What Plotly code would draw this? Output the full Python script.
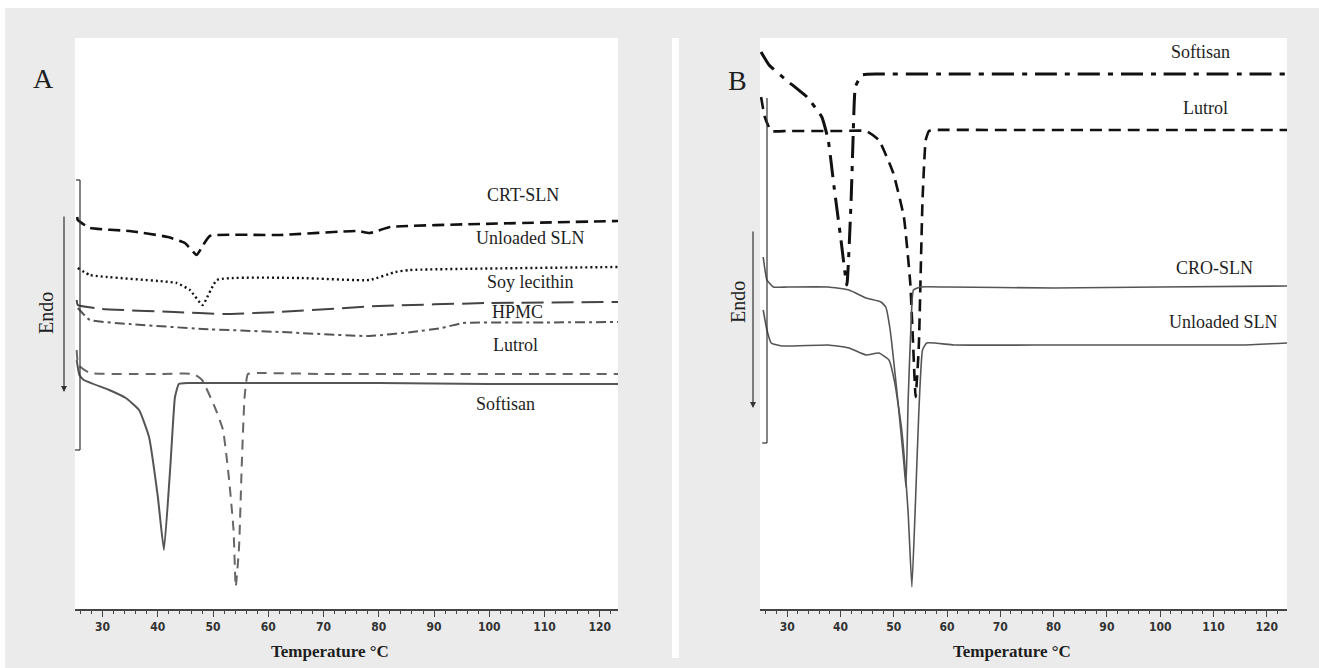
import plotly.graph_objects as go

# ---------------- Panel A: DSC thermograms (temperature in °C, relative heat flow) ----------------
a_crt_t = [25.4, 25.5, 27.7, 34.9, 41.8, 44.9, 47.0, 48.1, 49.4, 62.1, 76.2, 78.3, 82.1, 98.2, 123.3]
a_crt_v = [78.4, 77.8, 76.2, 75.6, 74.4, 73.2, 70.8, 72.6, 74.6, 74.8, 75.6, 75.2, 76.4, 77.0, 77.6]

a_unl_t = [25.5, 27.7, 43.4, 45.8, 48.1, 50.7, 65.7, 78.3, 83.0, 85.6, 123.3]
a_unl_v = [68.2, 66.8, 65.2, 63.8, 60.8, 65.8, 66.2, 65.8, 67.4, 67.8, 68.4]

a_soy_t = [25.3, 25.5, 29.9, 43.0, 52.0, 62.0, 80.0, 100.0, 123.3]
a_soy_v = [61.8, 60.8, 60.0, 59.4, 59.0, 59.4, 60.6, 61.2, 61.4]

a_hpmc_t = [25.5, 27.7, 34.9, 48.1, 62.1, 78.3, 86.0, 91.4, 95.2, 110.0, 123.3]
a_hpmc_v = [60.2, 57.8, 57.0, 56.0, 55.4, 54.6, 55.4, 56.2, 57.2, 57.3, 57.4]

a_lut_t = [25.3, 25.6, 27.7, 35.0, 40.0, 46.5, 48.0, 50.3, 51.8, 52.9, 53.7, 54.1, 54.7, 55.2, 55.7,
           56.3, 58.0, 70.0, 90.0, 110.0, 123.3]
a_lut_v = [51.8, 48.8, 47.2, 47.0, 47.0, 47.0, 45.8, 40.4, 35.8, 25.8, 15.8, 4.4, 12.4, 29.2, 42.4,
           47.0, 47.2, 47.0, 47.0, 47.0, 47.0]

a_sof_t = [25.3, 25.8, 26.6, 31.2, 34.2, 36.6, 38.4, 40.0, 41.1, 42.3, 43.1, 43.8, 45.5, 55.0, 80.0, 100.0, 123.3]
a_sof_v = [49.8, 46.8, 45.8, 43.8, 42.2, 39.8, 34.4, 22.4, 11.8, 29.2, 42.4, 45.0, 45.2, 45.2, 45.2, 45.0, 45.0]

# ---------------- Panel B ----------------
b_sof_t = [25.1, 26.6, 29.8, 33.7, 36.5, 37.7, 38.8, 40.1, 41.2, 42.0, 42.4, 42.8, 44.0, 47.0, 60.0, 80.0,
           100.0, 123.8]
b_sof_v = [111.4, 108.8, 105.8, 102.4, 98.4, 93.8, 84.4, 73.8, 64.8, 81.8, 95.2, 104.4, 106.8, 107.0, 107.0,
           107.0, 107.0, 107.0]

b_lut_t = [25.1, 25.8, 27.0, 30.0, 40.0, 44.8, 47.2, 49.9, 51.9, 53.1, 53.6, 54.1, 54.7, 55.4, 56.0, 56.6,
           57.7, 70.0, 90.0, 110.0, 123.8]
b_lut_v = [102.4, 98.4, 95.6, 95.6, 95.6, 95.6, 93.8, 87.2, 78.4, 65.2, 53.8, 42.4, 52.4, 81.8, 93.8, 95.6,
           95.8, 95.8, 95.8, 95.8, 95.8]

b_cro_t = [25.5, 26.2, 27.4, 30.0, 37.7, 41.6, 44.8, 47.6, 48.5, 49.3, 50.7, 51.9, 52.3, 52.7, 53.2, 53.7,
           55.0, 60.0, 80.0, 100.0, 123.8]
b_cro_v = [70.4, 65.8, 64.4, 64.4, 64.4, 63.8, 62.2, 61.4, 60.4, 56.0, 42.4, 29.2, 24.4, 41.8, 55.8, 63.8,
           64.4, 64.4, 64.2, 64.4, 64.6]

b_unl_t = [25.5, 26.2, 27.0, 29.0, 37.7, 41.6, 44.8, 47.2, 49.1, 50.2, 51.5, 52.7, 53.4, 54.0, 54.7, 55.4,
           56.2, 61.3, 80.0, 100.0, 115.0, 123.8]
b_unl_v = [59.8, 55.8, 53.2, 52.6, 52.8, 52.2, 50.8, 51.2, 49.8, 45.2, 35.8, 19.2, 4.4, 19.2, 39.2, 51.8,
           53.2, 52.8, 52.8, 52.8, 52.8, 53.2]

x_ticks = [30, 40, 50, 60, 70, 80, 90, 100, 110, 120]

W, H = 1319, 668


def px(x):
    return x / W


def py(y):
    return 1 - y / H


fig = go.Figure()


def add_curve(t, v, color, width, dash, xa, ya):
    fig.add_trace(go.Scatter(
        x=t, y=v, mode="lines", xaxis=xa, yaxis=ya, showlegend=False,
        line=dict(color=color, width=width, dash=dash, shape="spline", smoothing=0.4),
        hoverinfo="skip",
    ))


# Panel A curves
add_curve(a_crt_t, a_crt_v, "#111111", 2.6, "12px,6px", "x", "y")
add_curve(a_unl_t, a_unl_v, "#111111", 2.4, "2px,3px", "x", "y")
add_curve(a_soy_t, a_soy_v, "#444444", 2.0, "22px,8px", "x", "y")
add_curve(a_hpmc_t, a_hpmc_v, "#555555", 2.0, "10px,4px,3px,4px", "x", "y")
add_curve(a_lut_t, a_lut_v, "#666666", 2.0, "10px,7px", "x", "y")
add_curve(a_sof_t, a_sof_v, "#555555", 2.0, "solid", "x", "y")

# Panel B curves
add_curve(b_sof_t, b_sof_v, "#111111", 3.0, "22px,8px,5px,8px", "x2", "y2")
add_curve(b_lut_t, b_lut_v, "#111111", 2.6, "12px,7px", "x2", "y2")
add_curve(b_cro_t, b_cro_v, "#555555", 1.6, "solid", "x2", "y2")
add_curve(b_unl_t, b_unl_v, "#555555", 1.6, "solid", "x2", "y2")

tick_font = dict(family="DejaVu Sans Condensed, Liberation Sans Narrow, DejaVu Sans", size=12,
                 color="#333333", weight="bold")
xaxis_common = dict(
    tickmode="array", tickvals=x_ticks, ticktext=[str(v) for v in x_ticks],
    ticks="outside", ticklen=6, tickwidth=1.3, tickcolor="#444444",
    minor=dict(dtick=2, ticks="outside", ticklen=3, tickwidth=1, tickcolor="#444444"),
    showline=True, linecolor="#444444", linewidth=1.5,
    showgrid=False, zeroline=False, tickfont=tick_font, fixedrange=True,
)
yaxis_common = dict(range=[0, 114.2], visible=False, showgrid=False, zeroline=False, fixedrange=True,
                    domain=[py(609), py(38)])

serif = "Liberation Serif, Times New Roman, serif"
label_font = dict(family=serif, size=18, color="#1e1e1e")

annotations = []


def label(text, x, y, **kw):
    d = dict(text=text, x=px(x), y=py(y), xref="paper", yref="paper", showarrow=False,
             xanchor="center", yanchor="middle", font=label_font)
    d.update(kw)
    annotations.append(d)


# Series labels, panel A
label("CRT-SLN", 523, 195)
label("Unloaded SLN", 530, 238)
label("Soy lecithin", 530, 282)
label("HPMC", 517, 312)
label("Lutrol", 515, 345)
label("Softisan", 505, 404)
# Series labels, panel B
label("Softisan", 1200, 52)
label("Lutrol", 1205, 108)
label("CRO-SLN", 1214, 268)
label("Unloaded SLN", 1223, 322)

# Panel letters
label("A", 43, 79, font=dict(family=serif, size=28, color="#1e1e1e"))
label("B", 737, 80, font=dict(family=serif, size=28, color="#1e1e1e"))

# "Endo" direction labels
label("Endo", 46, 313, textangle=-90, font=dict(family=serif, size=20, color="#1e1e1e"))
label("Endo", 738, 302, textangle=-90, font=dict(family=serif, size=20, color="#1e1e1e"))

# Axis titles
title_font = dict(family=serif, size=17, color="#1e1e1e")
label("<b>Temperature °C</b>", 330, 651, font=title_font)
label("<b>Temperature °C</b>", 1012, 651, font=title_font)

# Endo arrows
for xa, y0, y1 in [(64, 215, 392), (753, 230, 408)]:
    annotations.append(dict(
        x=px(xa), y=py(y1), xref="paper", yref="paper", ax=0, ay=-(y1 - y0),
        axref="pixel", ayref="pixel", showarrow=True, arrowhead=2, arrowsize=1,
        arrowwidth=1.2, arrowcolor="#333333", text="",
    ))

white_edge = dict(fillcolor="#ffffff", line=dict(width=0), layer="below")
shapes = [
    # thin white border along the top and left of the page
    dict(type="rect", xref="paper", yref="paper", x0=0, x1=1, y0=py(8), y1=1, **white_edge),
    dict(type="rect", xref="paper", yref="paper", x0=0, x1=px(5), y0=0, y1=1, **white_edge),
    # white separator between panels
    dict(type="rect", xref="paper", yref="paper", x0=px(672), x1=px(679), y0=py(658), y1=py(38),
         **white_edge),
]

# Scale brackets
bracket_line = dict(color="#333333", width=1.2)
for xb, yt, yb, serif_top in [(80, 180, 450, True), (767, 98, 443, False)]:
    shapes.append(dict(type="line", xref="paper", yref="paper", x0=px(xb), x1=px(xb),
                       y0=py(yt), y1=py(yb), line=bracket_line, layer="above"))
    shapes.append(dict(type="line", xref="paper", yref="paper", x0=px(xb - 5), x1=px(xb),
                       y0=py(yb), y1=py(yb), line=bracket_line, layer="above"))
    if serif_top:
        shapes.append(dict(type="line", xref="paper", yref="paper", x0=px(xb - 4), x1=px(xb),
                           y0=py(yt), y1=py(yt), line=bracket_line, layer="above"))

fig.update_layout(
    width=W, height=H,
    margin=dict(l=0, r=0, t=0, b=0),
    paper_bgcolor="#ebebeb", plot_bgcolor="#ffffff",
    xaxis=dict(domain=[px(75), px(618)], range=[25.0, 123.3], anchor="y", **xaxis_common),
    yaxis=dict(anchor="x", **yaxis_common),
    xaxis2=dict(domain=[px(760), px(1287)], range=[24.9, 123.8], anchor="y2", **xaxis_common),
    yaxis2=dict(anchor="x2", **yaxis_common),
    annotations=annotations,
    shapes=shapes,
    showlegend=False,
)

fig.write_html("out.html")
